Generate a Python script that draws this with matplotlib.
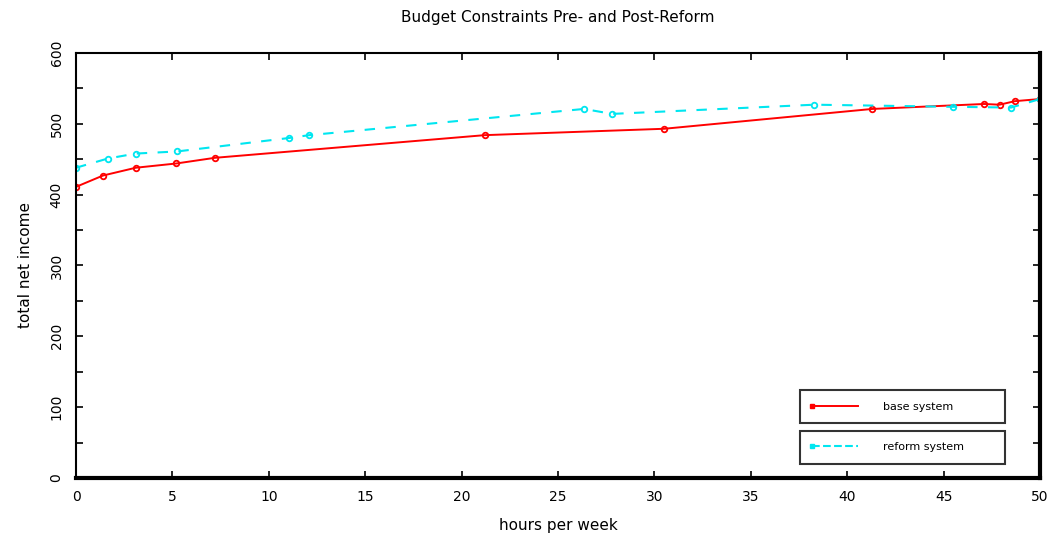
import matplotlib
matplotlib.use("Agg")
import matplotlib.pyplot as plt
from matplotlib.lines import Line2D
from matplotlib.legend_handler import HandlerBase
from matplotlib.ticker import MultipleLocator

# Data
base_hours = [0.0, 1.4, 3.1, 5.2, 7.2, 21.2, 30.5, 41.3, 47.1, 47.9, 48.7, 50.0]
base_income = [411, 427, 438, 444, 452, 484, 493, 521, 528, 527, 532, 535]

reform_hours = [0.0, 1.65, 3.1, 5.25, 11.05, 12.1, 26.35, 27.8, 38.3, 45.5, 48.5, 50.0]
reform_income = [438, 451, 458, 461, 480, 484, 521, 514, 527, 524, 523, 535]

title = "Budget Constraints Pre- and Post-Reform"
xlabel = "hours per week"
ylabel = "total net income"
legend_labels = ["base system", "reform system"]

red = "#ff0000"
cyan = "#00e6f0"

fig = plt.figure(figsize=(10.53, 5.39), dpi=100)
ax = fig.add_axes([0.0722, 0.1132, 0.9155, 0.7885])

ax.plot(base_hours, base_income, color=red, lw=1.4, marker="o", ms=4,
        mfc="none", mec=red, mew=1.3)
ax.plot(reform_hours, reform_income, color=cyan, lw=1.5, ls=(0, (5, 5)),
        marker="o", ms=4, mfc="none", mec=cyan, mew=1.3)

ax.set_xlim(0, 50)
ax.set_ylim(0, 600)
ax.xaxis.set_major_locator(MultipleLocator(5))
ax.yaxis.set_major_locator(MultipleLocator(100))
ax.yaxis.set_minor_locator(MultipleLocator(50))
ax.tick_params(which="both", direction="in", top=True, right=True,
               length=5, width=1.2, labelsize=10, pad=9)
for lab in ax.get_yticklabels():
    lab.set_rotation(90)
    lab.set_va("center")

for side in ["left", "top"]:
    ax.spines[side].set_linewidth(1.5)
for side in ["right", "bottom"]:
    ax.spines[side].set_linewidth(3.0)

ax.set_title(title, fontsize=11, pad=22)
ax.set_xlabel(xlabel, fontsize=11, labelpad=10)
ax.set_ylabel(ylabel, fontsize=11, labelpad=12)


class LineLeftMarker(HandlerBase):
    def create_artists(self, legend, orig_handle, xdescent, ydescent,
                       width, height, fontsize, trans):
        y = height / 2 - ydescent
        x0 = -xdescent
        x1 = -xdescent + width
        line = Line2D([x0, x1], [y, y], color=orig_handle.get_color(),
                      lw=orig_handle.get_linewidth(),
                      ls=orig_handle.get_linestyle(), transform=trans)
        mark = Line2D([x0], [y], color=orig_handle.get_color(), ls="none",
                      marker="s", ms=3.5, mfc=orig_handle.get_color(),
                      mec=orig_handle.get_color(), transform=trans)
        return [line, mark]


h_base = Line2D([0], [0], color=red, lw=1.4)
h_ref = Line2D([0], [0], color=cyan, lw=1.5, ls=(0, (4, 4)))

common = dict(loc="center left", mode="expand", borderaxespad=0,
              fancybox=False, edgecolor="black", fontsize=8,
              handlelength=4.2, handletextpad=2.2, borderpad=1.05,
              handler_map={Line2D: LineLeftMarker()})

leg1 = ax.legend([h_base], [legend_labels[0]],
                 bbox_to_anchor=(0.751, 0.129, 0.213, 0.078), **common)
leg1.get_frame().set_linewidth(1.5)
ax.add_artist(leg1)
leg2 = ax.legend([h_ref], [legend_labels[1]],
                 bbox_to_anchor=(0.751, 0.031, 0.213, 0.082), **common)
leg2.get_frame().set_linewidth(1.5)

fig.savefig("out.png", dpi=100)
